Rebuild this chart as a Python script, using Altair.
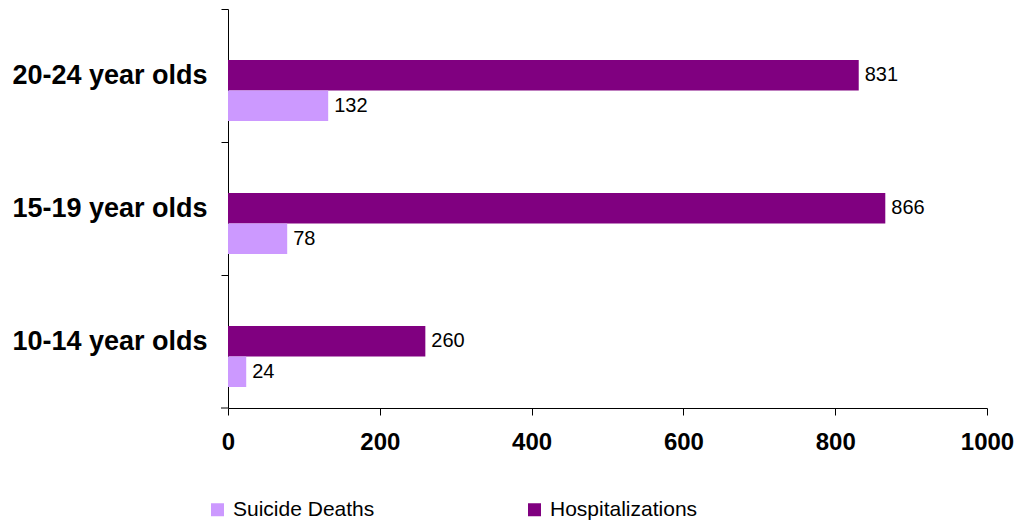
import altair as alt
import pandas as pd

ages = ["20-24 year olds", "15-19 year olds", "10-14 year olds"]
series = ["Hospitalizations", "Suicide Deaths"]
hospitalizations = [831, 866, 260]
suicide_deaths = [132, 78, 24]
colors = ["#CC99FF", "#800080"]
legend_order = ["Suicide Deaths", "Hospitalizations"]

rows = []
for i, a in enumerate(ages):
    rows.append({"age": a, "series": "Hospitalizations", "value": hospitalizations[i]})
    rows.append({"age": a, "series": "Suicide Deaths", "value": suicide_deaths[i]})
df = pd.DataFrame(rows)

FONT = "Liberation Sans"

y_enc = alt.Y("age:N", sort=ages, title=None,
              scale=alt.Scale(paddingInner=0, paddingOuter=0),
              axis=alt.Axis(bandPosition=0, labelFontSize=27, labelFontWeight="bold",
                            labelColor="black", labelFont=FONT, labelPadding=14,
                            labelLimit=0, tickSize=7, tickColor="black",
                            domainColor="black", labelAngle=0))
yoff = alt.YOffset("series:N", sort=series,
                   scale=alt.Scale(range=[51, 112], paddingInner=0, paddingOuter=0))
x_enc = alt.X("value:Q", title=None,
              scale=alt.Scale(domain=[0, 1000], nice=False),
              axis=alt.Axis(values=[0, 200, 400, 600, 800, 1000], grid=False, format="d",
                            labelFontSize=24, labelFontWeight="bold", labelColor="black",
                            labelFont=FONT, labelPadding=15, tickSize=7,
                            tickColor="black", domainColor="black", labelFlush=False))

bars = alt.Chart(df).mark_bar(opacity=1).encode(
    y=y_enc, yOffset=yoff, x=x_enc,
    color=alt.Color("series:N", scale=alt.Scale(domain=legend_order, range=colors),
                    sort=legend_order,
                    legend=alt.Legend(title=None, orient="none", legendX=-21, legendY=490,
                                      direction="horizontal", columns=2, columnPadding=149,
                                      symbolType="square", symbolSize=169,
                                      symbolStrokeWidth=0, symbolOpacity=1,
                                      labelFontSize=21, labelFont=FONT, labelColor="black",
                                      labelOffset=5)),
)

labels = alt.Chart(df).mark_text(align="left", baseline="middle", dx=6, fontSize=20,
                                 font=FONT, color="black").encode(
    y=alt.Y("age:N", sort=ages), yOffset=alt.YOffset("series:N", sort=series),
    x="value:Q", text="value:Q")

corner = alt.Chart(pd.DataFrame({"k": [0]})).mark_rule(color="black").encode(
    x=alt.value(-7), x2=alt.value(0), y=alt.value(399))

chart = alt.layer(bars, labels, corner).properties(
    width=759, height=399,
    autosize=alt.AutoSizeParams(type="none"),
    padding={"left": 220, "top": 1, "right": 27, "bottom": 119},
).configure_view(stroke=None)

chart.save("out.html", embed_options={"renderer": "svg", "actions": False})
